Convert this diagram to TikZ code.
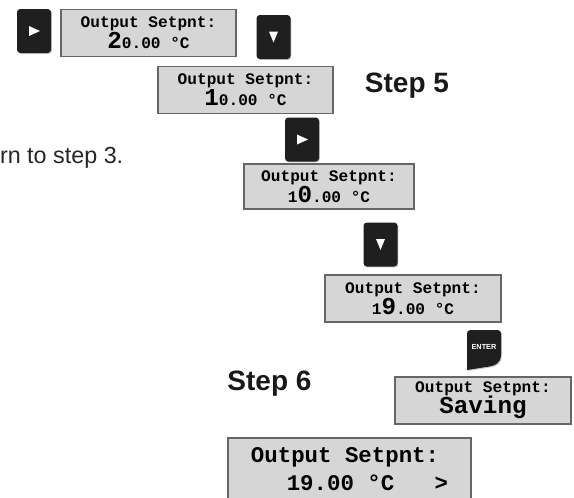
\documentclass[tikz,border=0pt]{standalone}
\usepackage{fontspec}
\setmainfont{Liberation Sans}
\newfontfamily\lcdfont{Liberation Mono}
\usetikzlibrary{positioning}
\usetikzlibrary{shadows}

\tikzset{
  lcd/.style={draw=black!60, line width=1.2pt, fill=black!16, inner sep=0pt,
    minimum width=131.5pt, minimum height=35.5pt, align=center,
    font=\lcdfont\bfseries\fontsize{12.1}{14.3}\selectfont},
  keybox/.style={fill=black!88, rounded corners=2.5pt, inner sep=0pt,
    minimum width=25.5pt, minimum height=33pt,
    drop shadow={shadow xshift=0.7pt, shadow yshift=-0.7pt, opacity=0.45}},
  steplabel/.style={font=\bfseries\fontsize{21}{25}\selectfont, text=black!90, anchor=base, inner sep=0pt}
}
\newcommand{\bigdig}[1]{{\fontsize{18.2}{14.3}\selectfont #1}}

\begin{document}
\begin{tikzpicture}[x=0.75pt,y=-0.75pt]
\useasboundingbox (0,0) rectangle (574,497);

% first row
\node[keybox] (b1) at (34,31) {};
\fill[white] (b1.center) ++(-5,-5) -- ++(0,10) -- ++(11,-5) -- cycle;
\node[lcd] (d1) at (148.5,33) {Output Setpnt:\\\bigdig{2}0.00 °C};
\node[keybox] (b2) at (273.5,37) {};
\fill[white] (b2.center) ++(-4.5,-5.5) -- ++(9,0) -- ++(-4.5,11) -- cycle;

\node[lcd] (d2) at (245.5,90) {Output Setpnt:\\\bigdig{1}0.00 °C};
\node[steplabel] (s5) at (407,92) {Step 5};

\node[font=\fontsize{17.5}{20}\selectfont, text=black!85, anchor=base east, inner sep=0pt] (ret) at (123.5,163) {rn to step 3.};

\node[keybox] (b3) at (302,139.5) {};
\fill[white] (b3.center) ++(-5,-5) -- ++(0,10) -- ++(11,-5) -- cycle;
\node[lcd, minimum width=127.5pt, minimum height=33.75pt] (d3) at (329,186.5) {Output Setpnt:\\1\bigdig{0}.00 °C};

\node[keybox] (b4) at (380.5,244.5) {};
\fill[white] (b4.center) ++(-4.5,-5.5) -- ++(9,0) -- ++(-4.5,11) -- cycle;
\node[lcd, minimum width=132pt] (d4) at (413,298.5) {Output Setpnt:\\1\bigdig{9}.00 °C};

% enter key
\fill[black!88, drop shadow={shadow xshift=0.7pt, shadow yshift=-0.7pt, opacity=0.45}]
  (484,330) [rounded corners=2.5pt] -- (501,330) -- (501,352) [sharp corners]
  .. controls (501,362) and (496,366) .. (486,367) -- (467,370)
  [rounded corners=2.5pt] -- (467,330) -- cycle;
\node[font=\bfseries\fontsize{5.5}{6}\selectfont, text=white, inner sep=0pt] (ent) at (484,347) {ENTER};

\node[steplabel] (s6) at (269.5,390) {Step 6};
\node[lcd, minimum width=132pt] (d5) at (483,400.5) {Output Setpnt:\\[-1pt]\bigdig{Saving}};

\node[lcd, minimum width=182.25pt, minimum height=46.5pt, align=left,
  font=\lcdfont\bfseries\fontsize{16.8}{21}\selectfont] (d6) at (349.5,469)
  {Output Setpnt:\\\hspace*{1.6em}19.00 °C\ \ \ >};

\end{tikzpicture}
\end{document}
